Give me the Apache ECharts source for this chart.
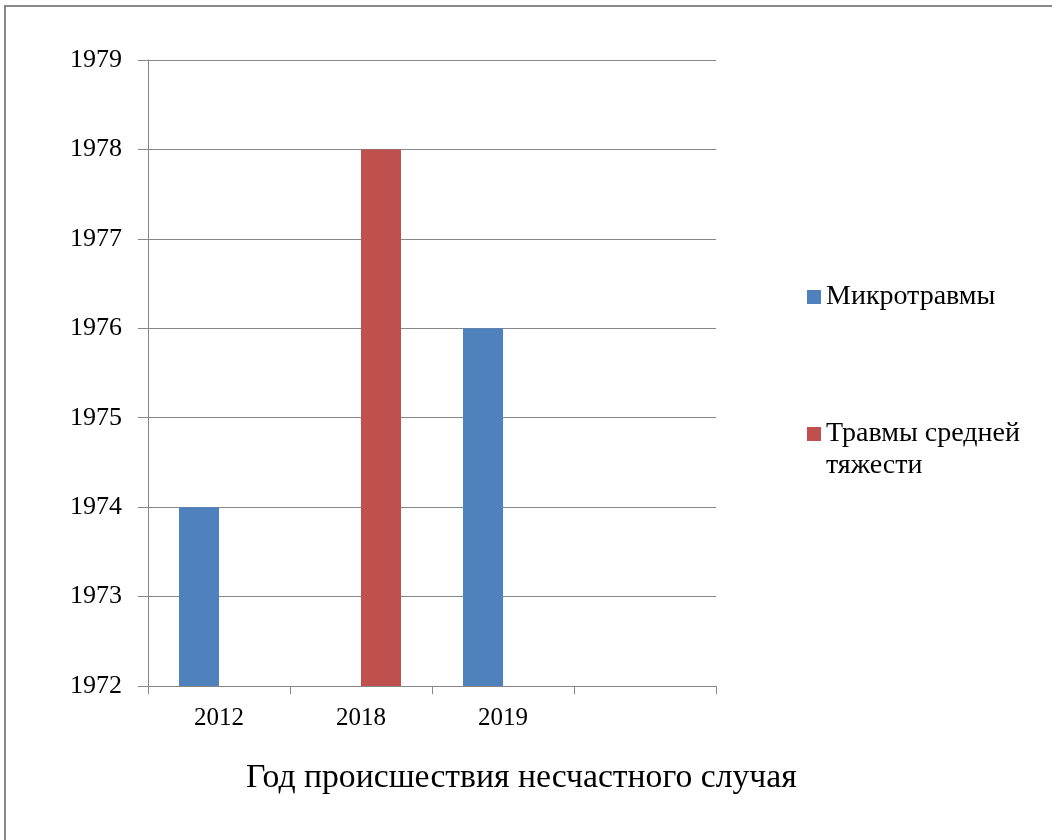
<!DOCTYPE html>
<html>
<head>
<meta charset="utf-8">
<script src="https://cdn.jsdelivr.net/npm/echarts@6/dist/echarts.min.js"></script>
<style>
  html, body { margin: 0; padding: 0; background: #fff; }
  #main { position: absolute; left: 0; top: 0; width: 1052px; height: 840px; }
  /* рамка сверху и слева, как на скриншоте */
  #frame { position: absolute; left: 4px; top: 5px; width: 1060px; height: 850px;
           border-left: 2px solid #898989; border-top: 2px solid #898989; pointer-events: none; }
</style>
</head>
<body>
<div id="main"></div>
<div id="frame"></div>
<script>
// данные графика
const categories = ['2012', '2018', '2019', ''];
const seriesNames = ['Микротравмы', 'Травмы средней тяжести'];
const microValues = [1974, null, 1976, null];
const mediumValues = [null, 1978, null, null];
const yMin = 1972;
const yMax = 1979;
const axisTitle = 'Год происшествия несчастного случая';

const FONT = '"Liberation Serif", "Times New Roman", serif';
const AXIS_GRAY = '#878787';

const chart = echarts.init(document.getElementById('main'), null, { renderer: 'canvas' });

var option = {
  animation: false,
  textStyle: { fontFamily: FONT },
  title: {
    text: axisTitle,
    left: 246,
    top: 761,
    padding: 0,
    textStyle: { fontFamily: FONT, fontSize: 33.7, fontWeight: 'normal', color: '#000' }
  },
  legend: [{
    data: [seriesNames[0]],
    left: 807,
    top: 281,
    padding: 0,
    icon: 'rect',
    itemWidth: 14,
    itemHeight: 14,
    textStyle: { fontFamily: FONT, fontSize: 28, color: '#000', lineHeight: 32 }
  }, {
    data: [seriesNames[1]],
    left: 807,
    top: 386,
    padding: 0,
    icon: 'rect',
    itemWidth: 14,
    itemHeight: 14,
    formatter: function (name) { //пустая первая строка, чтобы значок стоял у первой строки текста
      return ' \n' + name.replace('средней ', 'средней\n');
    },
    textStyle: { fontFamily: FONT, fontSize: 28, color: '#000', lineHeight: 32 }
  }],
  grid: {
    left: 148,
    right: 336,
    top: 60,
    bottom: 154,
    containLabel: false
  },
  tooltip: { show: false },
  xAxis: {
    type: 'category',
    data: categories,
    boundaryGap: true,
    axisLine: { lineStyle: { color: AXIS_GRAY, width: 1 } },
    axisTick: { show: true, length: 8, alignWithLabel: false, lineStyle: { color: AXIS_GRAY } },
    axisLabel: { margin: 20, fontFamily: FONT, fontSize: 25, color: '#000' },
    splitLine: { show: false }
  },
  yAxis: {
    type: 'value',
    min: yMin,
    max: yMax,
    interval: 1,
    axisLine: { show: true, lineStyle: { color: AXIS_GRAY, width: 1 } },
    axisTick: { show: true, inside: false, length: 10, lineStyle: { color: AXIS_GRAY } },
    axisLabel: {
      margin: 26, fontFamily: FONT, fontSize: 26, color: '#000',
      formatter: function (v) { return String(v); } //без разделителя тысяч
    },
    splitLine: { show: true, lineStyle: { color: AXIS_GRAY, width: 1 } }
  },
  series: [{
    name: seriesNames[0],
    type: 'bar',
    data: microValues,
    barWidth: 40,
    barGap: '0%',
    itemStyle: { color: '#4F81BD' }
  }, {
    name: seriesNames[1],
    type: 'bar',
    data: mediumValues,
    barWidth: 40,
    barGap: '0%',
    itemStyle: { color: '#C0504D' }
  }]
};

chart.setOption(option);
</script>
</body>
</html>
